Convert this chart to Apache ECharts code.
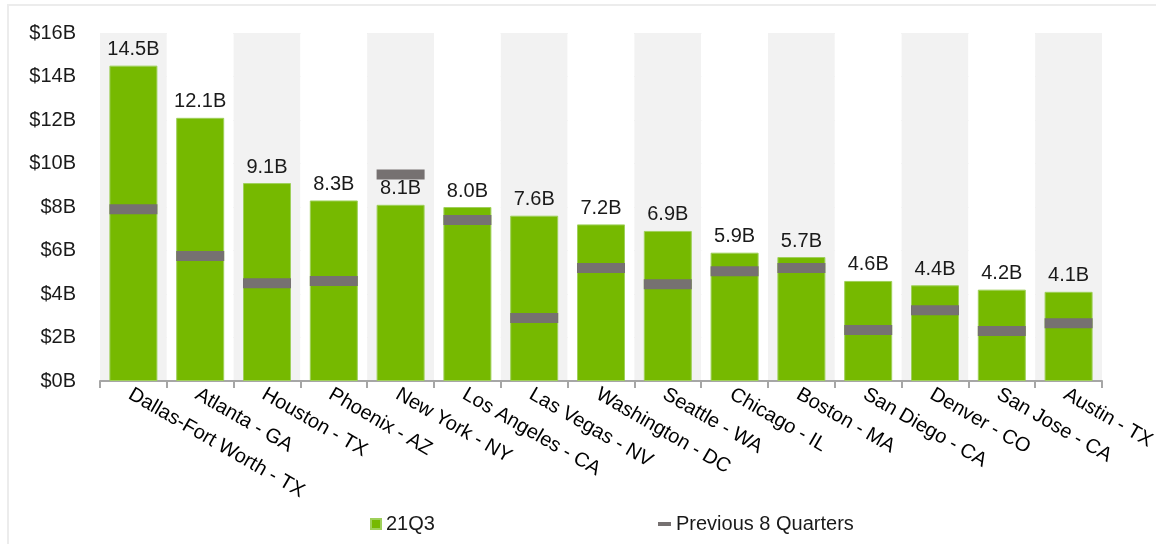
<!DOCTYPE html>
<html>
<head>
<meta charset="utf-8">
<script src="https://cdn.jsdelivr.net/npm/echarts@6/dist/echarts.min.js"></script>
<style>
html,body{margin:0;padding:0;background:#fff;}
#chart{width:1156px;height:544px;}
</style>
</head>
<body>
<div id="chart"></div>
<script>
const categories = ['Dallas-Fort Worth - TX','Atlanta - GA','Houston - TX','Phoenix - AZ','New York - NY','Los Angeles - CA','Las Vegas - NV','Washington - DC','Seattle - WA','Chicago - IL','Boston - MA','San Diego - CA','Denver - CO','San Jose - CA','Austin - TX'];
const current21Q3 = [14.5, 12.1, 9.1, 8.3, 8.1, 8.0, 7.6, 7.2, 6.9, 5.9, 5.7, 4.6, 4.4, 4.2, 4.1];
const previous8Q = [7.9, 5.75, 4.5, 4.6, 9.5, 7.4, 2.9, 5.2, 4.45, 5.05, 5.2, 2.35, 3.25, 2.3, 2.65];
const yTicks = { min: 0, max: 16, interval: 2 };

const FONT = '"Liberation Sans", Arial, sans-serif';
const chart = echarts.init(document.getElementById('chart'));
chart.setOption({
  animation: false,
  backgroundColor: '#ffffff',
  textStyle: { fontFamily: FONT },
  graphic: [{
    type: 'rect', silent: true, z: -10,
    shape: { x: 8, y: 5, width: 1200, height: 600 },
    style: { fill: 'none', stroke: '#ececec', lineWidth: 2 }
  }],
  grid: { left: 100, right: 54, top: 33, bottom: 163, containLabel: false, outerBoundsMode: 'none' },
  legend: [{
    left: 365, top: 509, itemWidth: 10, itemHeight: 10,
    textStyle: { fontSize: 20, color: '#1a1a1a', fontFamily: FONT },
    data: [{ name: '21Q3', icon: 'rect' }]
  }, {
    left: 653, top: 509, itemWidth: 13, itemHeight: 4,
    textStyle: { fontSize: 20, color: '#1a1a1a', fontFamily: FONT },
    data: [{ name: 'Previous 8 Quarters', icon: 'rect' }]
  }],
  xAxis: [{
    type: 'category', data: categories, position: 'bottom',
    axisLine: { lineStyle: { color: '#a6a6a6', width: 2 } },
    axisTick: { show: true, length: 7, lineStyle: { color: '#a6a6a6', width: 2 } },
    splitArea: { show: true, areaStyle: { color: ['#f2f2f2', '#ffffff'] } },
    axisLabel: { rotate: -30, fontSize: 20, color: '#000', margin: 14, interval: 0, fontFamily: FONT,
      padding: [0, 0, 0, -4] }
  }, {
    type: 'category', data: categories, position: 'bottom', gridIndex: 0,
    axisLine: { show: false },
    axisTick: { show: true, alignWithLabel: true, inside: true, length: 4, lineStyle: { color: '#a6a6a6', width: 2 } },
    axisLabel: { show: false }
  }],
  yAxis: {
    type: 'value', min: yTicks.min, max: yTicks.max, interval: yTicks.interval,
    axisLine: { show: false }, axisTick: { show: false },
    splitLine: { lineStyle: { color: '#e4e4e4', width: 1 } },
    axisLabel: { formatter: v => '$' + v + 'B', fontSize: 20, color: '#1a1a1a', margin: 24, fontFamily: FONT }
  },
  series: [{
    name: '21Q3', type: 'bar', data: current21Q3, barWidth: 48,
    itemStyle: { color: '#76b900', borderColor: '#9fd05a', borderWidth: 1 },
    label: { show: true, position: 'top', distance: 6, fontSize: 20, color: '#1a1a1a', fontFamily: FONT,
      formatter: p => p.value.toFixed(1) + 'B' },
    z: 2
  }, {
    name: 'Previous 8 Quarters', type: 'scatter', data: previous8Q,
    symbol: 'rect', symbolSize: [48, 10],
    itemStyle: { color: '#767171', opacity: 1 }, z: 3
  }]
});
</script>
</body>
</html>
